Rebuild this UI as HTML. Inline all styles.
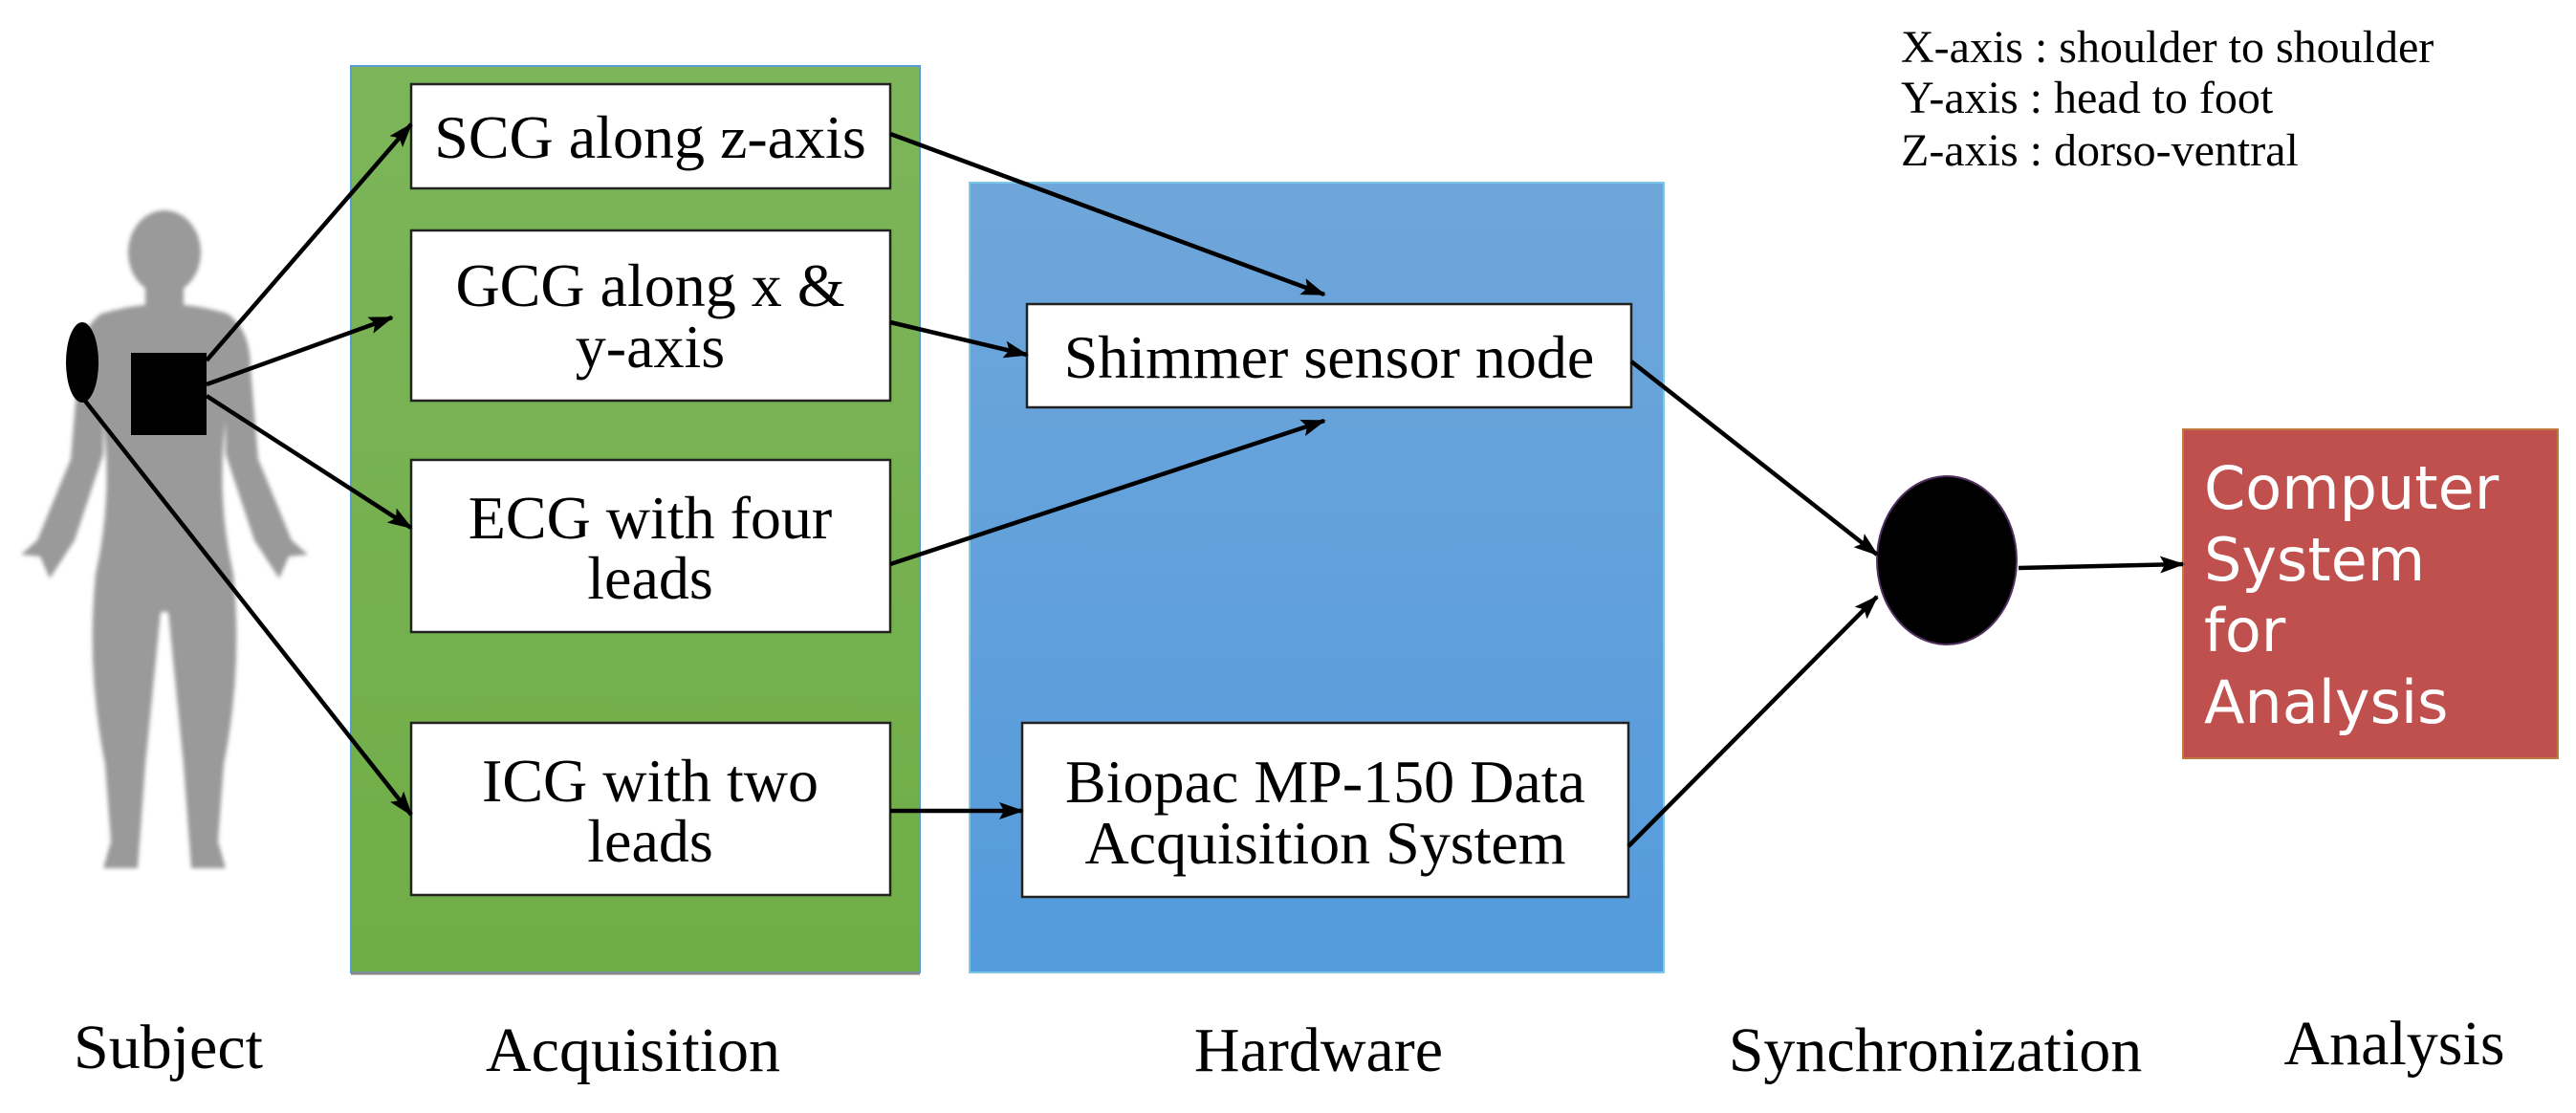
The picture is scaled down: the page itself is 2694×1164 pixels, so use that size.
<!DOCTYPE html>
<html><head><meta charset="utf-8"><style>
html,body{margin:0;padding:0;background:#fff;}
svg{display:block}
.s{font-family:"Liberation Serif",serif;fill:#000}
</style></head><body>
<svg width="2694" height="1164" viewBox="0 0 2694 1164" xmlns="http://www.w3.org/2000/svg">
<defs>
<marker id="a" markerWidth="26" markerHeight="18" refX="24" refY="9" orient="auto" markerUnits="userSpaceOnUse" viewBox="0 0 26 18"><path d="M0,0 L26,9 L0,18 L5,9 z" fill="#000"/></marker>
<linearGradient id="g" x1="0" y1="0" x2="0" y2="1"><stop offset="0" stop-color="#7db55a"/><stop offset="1" stop-color="#70ad47"/></linearGradient>
<linearGradient id="b" x1="0" y1="0" x2="0" y2="1"><stop offset="0" stop-color="#6fa6da"/><stop offset="1" stop-color="#549bdc"/></linearGradient>
<filter id="bl"><feGaussianBlur stdDeviation="2"/></filter>
</defs>
<!-- silhouette -->
<g fill="#9a9a9a" filter="url(#bl)">
<ellipse cx="172" cy="264" rx="38" ry="44"/>
<rect x="152" y="295" width="40" height="40"/>
<path d="M106,328 Q172,308 238,328 Q262,345 262,385 L270,480 L305,565 L322,580 L302,582 L292,605 L266,565 L236,475 L236,440 Q226,520 244,600 Q254,700 234,800 L228,880 L236,908 L200,908 L192,800 L176,640 L168,640 L152,800 L144,908 L108,908 L116,880 L110,800 Q90,700 100,600 Q118,520 108,440 L108,475 L78,565 L52,605 L42,582 L22,580 L39,565 L74,480 L82,385 Q82,345 106,328 Z"/>
</g>
<rect x="137" y="369" width="79" height="86" fill="#000"/>
<ellipse cx="86" cy="379" rx="17" ry="42" fill="#000"/>
<!-- green -->
<rect x="367" y="69" width="595" height="948" fill="url(#g)" stroke="#5b9bd5" stroke-width="2"/>
<line x1="367" y1="1018" x2="962" y2="1018" stroke="#888" stroke-width="3"/>
<!-- blue -->
<rect x="1014" y="191" width="726" height="826" fill="url(#b)" stroke="#7fc8e8" stroke-width="2"/>
<!-- boxes -->
<g fill="#fff" stroke="#222" stroke-width="2.5">
<rect x="430" y="88" width="501" height="109"/>
<rect x="430" y="241" width="501" height="178"/>
<rect x="430" y="481" width="501" height="180"/>
<rect x="430" y="756" width="501" height="180"/>
<rect x="1074" y="318" width="632" height="108"/>
<rect x="1069" y="756" width="634" height="182"/>
</g>
<g class="s" font-size="64" text-anchor="middle">
<text x="680" y="165">SCG along z-axis</text>
<text x="680" y="320">GCG along x &amp;</text>
<text x="680" y="384">y-axis</text>
<text x="680" y="563">ECG with four</text>
<text x="680" y="626">leads</text>
<text x="680" y="838">ICG with two</text>
<text x="680" y="901">leads</text>
<text x="1390" y="395">Shimmer sensor node</text>
<text x="1386" y="839">Biopac MP-150 Data</text>
<text x="1386" y="903">Acquisition System</text>
</g>
<!-- sync ellipse -->
<ellipse cx="2036" cy="586" rx="73" ry="88" fill="#000" stroke="#503060" stroke-width="2"/>
<!-- red box -->
<rect x="2283" y="449" width="392" height="344" fill="#c0504d" stroke="#c07a40" stroke-width="2"/>
<g font-family="'DejaVu Sans',sans-serif" font-size="62" fill="#fff">
<text x="2305" y="532">Computer</text>
<text x="2305" y="607">System</text>
<text x="2305" y="681">for</text>
<text x="2305" y="756">Analysis</text>
</g>
<!-- arrows -->
<g stroke="#000" stroke-width="4.5" fill="none" marker-end="url(#a)">
<line x1="216" y1="377" x2="430" y2="130"/>
<line x1="216" y1="402" x2="410" y2="332"/>
<line x1="216" y1="414" x2="430" y2="552"/>
<line x1="88" y1="418" x2="430" y2="852"/>
<line x1="931" y1="140" x2="1385" y2="308"/>
<line x1="931" y1="337" x2="1074" y2="371"/>
<line x1="931" y1="590" x2="1385" y2="440"/>
<line x1="931" y1="848" x2="1069" y2="848"/>
<line x1="1706" y1="378" x2="1963" y2="580"/>
<line x1="1703" y1="885" x2="1963" y2="624"/>
<line x1="2111" y1="594" x2="2283" y2="590"/>
</g>
<!-- legend -->
<g class="s" font-size="48">
<text x="1988" y="65">X-axis : shoulder to shoulder</text>
<text x="1988" y="118">Y-axis : head to foot</text>
<text x="1988" y="173">Z-axis : dorso-ventral</text>
</g>
<!-- bottom labels -->
<g class="s" font-size="66" text-anchor="middle">
<text x="176" y="1117">Subject</text>
<text x="662" y="1120">Acquisition</text>
<text x="1379" y="1120">Hardware</text>
<text x="2024" y="1120">Synchronization</text>
<text x="2504" y="1113">Analysis</text>
</g>
</svg>
</body></html>
